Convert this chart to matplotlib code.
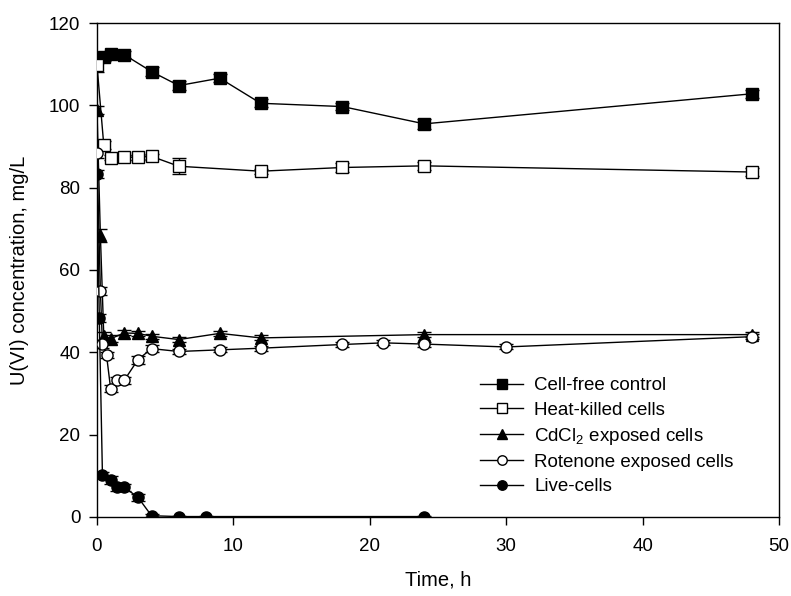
import numpy as np
import matplotlib
matplotlib.use("Agg")
import matplotlib.pyplot as plt

plt.rcParams['font.family'] = ['Liberation Sans', 'DejaVu Sans']
plt.rcParams['mathtext.fontset'] = 'custom'
plt.rcParams['mathtext.rm'] = 'Liberation Sans'

# 数据
t_free = [0, 0.5, 1, 2, 4, 6, 9, 12, 18, 24, 48]
u_free = [111.5, 111.8, 112.4, 112.3, 108.2, 104.8, 106.6, 100.5, 99.7, 95.5, 102.8]
e_free = [1.0, 1.0, 0.8, 0.8, 1.0, 1.0, 1.0, 1.0, 0.8, 1.3, 1.0]

t_heat = [0, 0.5, 1, 2, 3, 4, 6, 12, 18, 24, 48]
u_heat = [109.8, 90.3, 87.3, 87.4, 87.4, 87.6, 85.2, 84.0, 84.9, 85.3, 83.8]
e_heat = [1.8, 1.0, 0.6, 0.6, 0.6, 0.6, 2.0, 0.6, 1.0, 1.0, 1.0]

t_cd = [0, 0.25, 0.5, 1, 2, 3, 4, 6, 9, 12, 24, 48]
u_cd = [98.8, 68.4, 43.9, 43.3, 44.7, 44.6, 43.9, 43.1, 44.6, 43.5, 44.3, 44.3]
e_cd = [1.0, 1.5, 1.0, 0.8, 0.6, 0.6, 0.6, 0.6, 0.6, 0.6, 0.6, 0.6]

t_rot = [0, 0.25, 0.4, 0.7, 1, 1.5, 2, 3, 4, 6, 9, 12, 18, 21, 24, 30, 48]
u_rot = [88.3, 54.9, 42.1, 39.3, 31.2, 33.2, 33.2, 38.2, 40.9, 40.2, 40.6, 41.0, 41.9, 42.3, 42.0, 41.3, 43.8]
e_rot = [1.0, 1.0, 1.0, 0.8, 0.8, 0.8, 0.8, 1.0, 0.8, 0.6, 0.6, 0.6, 0.6, 0.6, 0.6, 0.6, 0.6]

t_live = [0, 0.17, 0.4, 1, 1.5, 2, 3, 4, 6, 8, 24]
u_live = [83.3, 48.4, 10.3, 9.0, 7.2, 7.2, 4.8, 0.3, 0.1, 0.1, 0.1]
e_live = [1.0, 1.0, 0.6, 1.0, 1.0, 0.8, 0.8, 0.4, 0.2, 0.2, 0.2]

labels = ['Cell-free control', 'Heat-killed cells', r'CdCl$_\mathregular{2}$ exposed cells',
          'Rotenone exposed cells', 'Live-cells']

series = [
    (t_free, u_free, e_free, 's', 'black', 8.5),
    (t_heat, u_heat, e_heat, 's', 'white', 8.5),
    (t_cd, u_cd, e_cd, '^', 'black', 8.5),
    (t_rot, u_rot, e_rot, 'o', 'white', 8.0),
    (t_live, u_live, e_live, 'o', 'black', 8.0),
]

fig = plt.figure(figsize=(7.91, 5.96), dpi=100)
ax = fig.add_axes([0.1226, 0.1326, 0.8622, 0.8288])

handles = []
for (t, u, e, m, fc, ms), lab in zip(series, labels):
    ax.errorbar(t, u, yerr=e, fmt='none', ecolor='black', elinewidth=1, capsize=5, capthick=1, zorder=2)
    h, = ax.plot(t, u, color='black', lw=1, marker=m, markerfacecolor=fc, markeredgecolor='black',
                 markeredgewidth=1, markersize=ms, label=lab, zorder=3)
    handles.append(h)

ax.set_xlim(0, 50)
ax.set_ylim(0, 120)
ax.set_xticks([0, 10, 20, 30, 40, 50])
ax.set_yticks([0, 20, 40, 60, 80, 100, 120])
ax.tick_params(axis='x', direction='out', length=6, width=1, pad=9, labelsize=13.5)
ax.tick_params(axis='y', direction='out', length=6, width=1, pad=6, labelsize=13.5)
for sp in ax.spines.values():
    sp.set_linewidth(1)

ax.set_xlabel('Time, h', fontsize=14.5, labelpad=11)
ax.set_ylabel('U(VI) concentration, mg/L', fontsize=14.5, labelpad=14)

ax.legend(handles=handles, loc='upper left', bbox_to_anchor=(0.5616, 0.283), frameon=False,
          fontsize=13.5, borderpad=0, borderaxespad=0, handlelength=2.3, handletextpad=0.6,
          labelspacing=0.38, markerscale=0.85)

fig.savefig('out.png', dpi=100)
